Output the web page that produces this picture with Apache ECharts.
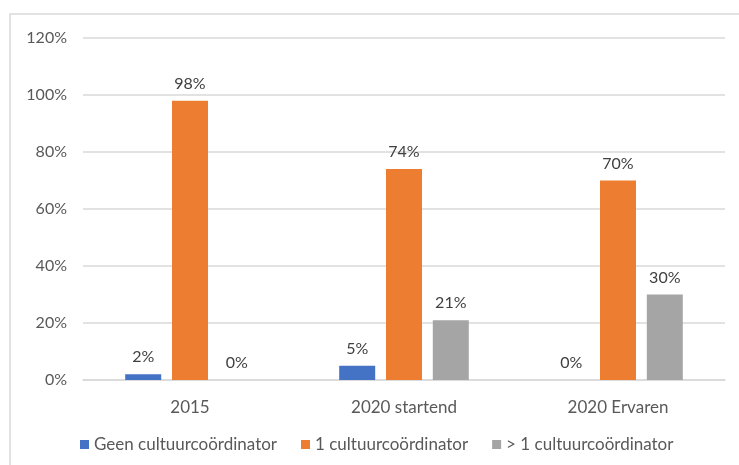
<!DOCTYPE html>
<html>
<head>
<meta charset="utf-8">
<script src="https://cdn.jsdelivr.net/npm/echarts@6/dist/echarts.min.js"></script>
<style>
html,body{margin:0;padding:0;background:#fff;}
#chart{width:739px;height:465px;}
</style>
</head>
<body>
<div id="chart"></div>
<script>
const categories = ['2015', '2020 startend', '2020 Ervaren'];
const seriesNames = ['Geen cultuurcoördinator', '1 cultuurcoördinator', '> 1 cultuurcoördinator'];
const geenValues = [2, 5, 0];
const eenValues = [98, 74, 70];
const meerValues = [0, 21, 30];
const yTicks = [0, 20, 40, 60, 80, 100, 120];
const colors = ['#4472C4', '#ED7D31', '#A5A5A5'];

const FONT = 'Lato, "Liberation Sans", sans-serif';
const chart = echarts.init(document.getElementById('chart'));
const label = {
  show: true, position: 'top', distance: 9,
  formatter: p => p.value + '%',
  color: '#404040', fontSize: 16, fontFamily: FONT
};
const dataSets = [geenValues, eenValues, meerValues];
chart.setOption({
  animation: false,
  color: colors,
  graphic: [{
    type: 'rect', silent: true,
    shape: { x: 10, y: 14, width: 800, height: 500 },
    style: { fill: 'none', stroke: '#d9d9d9', lineWidth: 1.5 }
  }],
  grid: { left: 83, right: 14, top: 38, bottom: 85 },
  legend: {
    data: seriesNames,
    left: 75, top: 431,
    itemWidth: 9, itemHeight: 9, itemGap: 24,
    icon: 'rect',
    textStyle: { color: '#595959', fontSize: 17, fontFamily: FONT }
  },
  xAxis: {
    type: 'category', data: categories,
    axisLine: { lineStyle: { color: '#d9d9d9', width: 1.5 } },
    axisTick: { show: false },
    axisLabel: { color: '#595959', fontSize: 17, fontFamily: FONT, margin: 19 }
  },
  yAxis: {
    type: 'value', min: yTicks[0], max: yTicks[yTicks.length - 1], interval: 20,
    axisLine: { show: false }, axisTick: { show: false },
    splitLine: { lineStyle: { color: '#d9d9d9', width: 1.5 } },
    axisLabel: { color: '#595959', fontSize: 16, fontFamily: FONT, margin: 16, formatter: v => v + '%' }
  },
  series: seriesNames.map((n, i) => ({
    name: n, type: 'bar', data: dataSets[i],
    barWidth: 36, barGap: '30%',
    label: label
  }))
});
</script>
</body>
</html>
